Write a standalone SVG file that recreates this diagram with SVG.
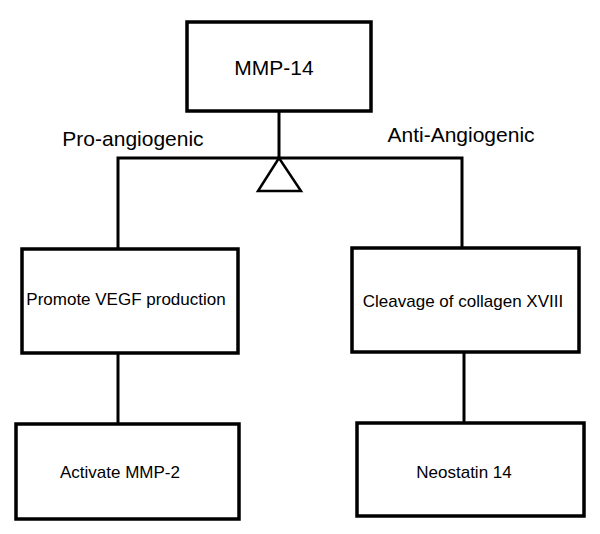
<svg xmlns="http://www.w3.org/2000/svg" width="600" height="534" viewBox="0 0 600 534">
<style>
.box{fill:#fff;stroke:#000;stroke-width:3.5}
.ln{stroke:#000;stroke-width:3;fill:none}
.tri{fill:#fff;stroke:#000;stroke-width:2.5;stroke-linejoin:miter}
text{font-family:"Liberation Sans",Arial,sans-serif;fill:#000;text-anchor:middle}
.t{font-size:17px}
.big{font-size:21px}
</style>
<rect width="600" height="534" fill="#fff"/>
<g id="connectors">
<line class="ln" x1="279" y1="111" x2="279" y2="158"/>
<polyline class="ln" points="118,250 118,158 462,158 462,249"/>
<line class="ln" x1="118" y1="353" x2="118" y2="424"/>
<line class="ln" x1="464" y1="352" x2="464" y2="423"/>
<polygon class="tri" points="279,158 258,191 301,191"/>
</g>
<g id="label-pro"><text class="big" x="133" y="146">Pro-angiogenic</text></g>
<g id="label-anti"><text class="big" x="461" y="142">Anti-Angiogenic</text></g>
<g id="mmp14">
<rect class="box" x="187" y="22" width="184" height="89"/>
<text class="big" x="274" y="75">MMP-14</text>
</g>
<g id="vegf">
<rect class="box" x="22" y="249" width="216" height="104"/>
<text class="t" x="126" y="305">Promote VEGF production</text>
</g>
<g id="mmp2">
<rect class="box" x="16" y="424" width="223" height="95"/>
<text class="t" x="120" y="478">Activate MMP-2</text>
</g>
<g id="collagen">
<rect class="box" x="352" y="248" width="227" height="104"/>
<text class="t" x="463" y="307">Cleavage of collagen XVIII</text>
</g>
<g id="neostatin">
<rect class="box" x="357" y="423" width="227" height="93"/>
<text class="t" x="464" y="478">Neostatin 14</text>
</g>
</svg>
